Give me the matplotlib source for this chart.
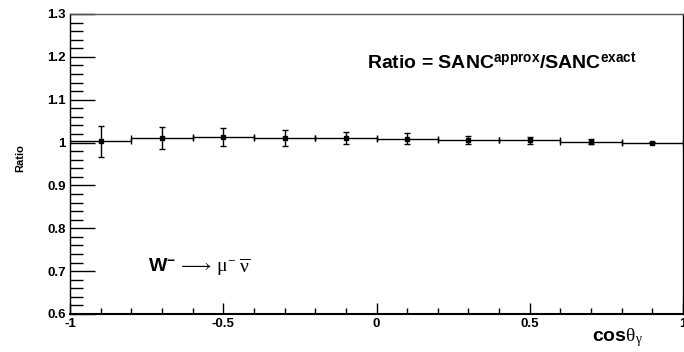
import numpy as np
import matplotlib
matplotlib.use("Agg")
import matplotlib.pyplot as plt
from matplotlib.ticker import MultipleLocator

plt.rcParams['font.family'] = ['Liberation Sans', 'DejaVu Sans']
plt.rcParams['mathtext.fontset'] = 'custom'
plt.rcParams['mathtext.rm'] = 'Liberation Serif'
plt.rcParams['mathtext.bf'] = 'Liberation Sans:bold'
plt.rcParams['mathtext.it'] = 'Liberation Serif'
plt.rcParams['mathtext.default'] = 'rm'

# bin centres of cos(theta_gamma) and the ratio with its errors
bin_centers = [-0.9, -0.7, -0.5, -0.3, -0.1, 0.1, 0.3, 0.5, 0.7, 0.9]
ratio = [1.003, 1.011, 1.014, 1.011, 1.011, 1.009, 1.006, 1.005, 1.002, 1.000]
ratio_err = [0.036, 0.026, 0.021, 0.018, 0.0145, 0.013, 0.010, 0.008, 0.006, 0.002]
bin_halfwidth = 0.1

fig = plt.figure(figsize=(6.84, 3.52), dpi=100)
ax = fig.add_axes([70/684, 1 - 314/352, 613/684, 300/352])

ax.errorbar(bin_centers, ratio, xerr=bin_halfwidth, yerr=ratio_err,
            fmt='s', color='black', markersize=2.5, elinewidth=1.0,
            capsize=2.5, capthick=1.0)

ax.set_xlim(-1, 1)
ax.set_ylim(0.6, 1.3)

ax.xaxis.set_major_locator(MultipleLocator(0.5))
ax.xaxis.set_minor_locator(MultipleLocator(0.1))
ax.yaxis.set_major_locator(MultipleLocator(0.1))
ax.yaxis.set_minor_locator(MultipleLocator(0.02))

ax.tick_params(axis='x', which='major', direction='in', length=8, width=1, pad=3, labelsize=9.5)
ax.tick_params(axis='x', which='minor', direction='in', length=4, width=1)
ax.tick_params(axis='y', which='major', direction='in', length=18, width=1, pad=3, labelsize=9.5)
ax.tick_params(axis='y', which='minor', direction='in', length=9, width=1)
ax.set_xticks([-1, -0.5, 0, 0.5, 1])
ax.set_xticklabels(['-1', '-0.5', '0', '0.5', '1'], fontweight='bold')
ax.set_yticks([0.6, 0.7, 0.8, 0.9, 1.0, 1.1, 1.2, 1.3])
ax.set_yticklabels(['0.6', '0.7', '0.8', '0.9', '1', '1.1', '1.2', '1.3'], fontweight='bold')

for s in ax.spines.values():
    s.set_linewidth(1.0)
ax.spines['top'].set_color('#555555')
ax.spines['bottom'].set_linewidth(1.5)

fig.text(20/684, 1 - 158/352, 'Ratio', rotation=90, fontsize=8, fontweight='bold',
         ha='center', va='center')
fig.text(643/684, 1 - 338/352, r'cos$\theta_{\gamma}$', fontsize=14, fontweight='bold',
         ha='right', va='center')

ax.text(0.485, 0.84, r'Ratio = SANC$^{\mathbf{approx}}$/SANC$^{\mathbf{exact}}$',
        transform=ax.transAxes, fontsize=14, fontweight='bold', ha='left', va='center')
ax.text(0.128, 0.155, r'$\mathbf{W}^{\mathbf{-}}\,\longrightarrow\,\mu^{-}\;\overline{\nu}$',
        transform=ax.transAxes, fontsize=14, ha='left', va='center')

fig.savefig('out.png', dpi=100)
